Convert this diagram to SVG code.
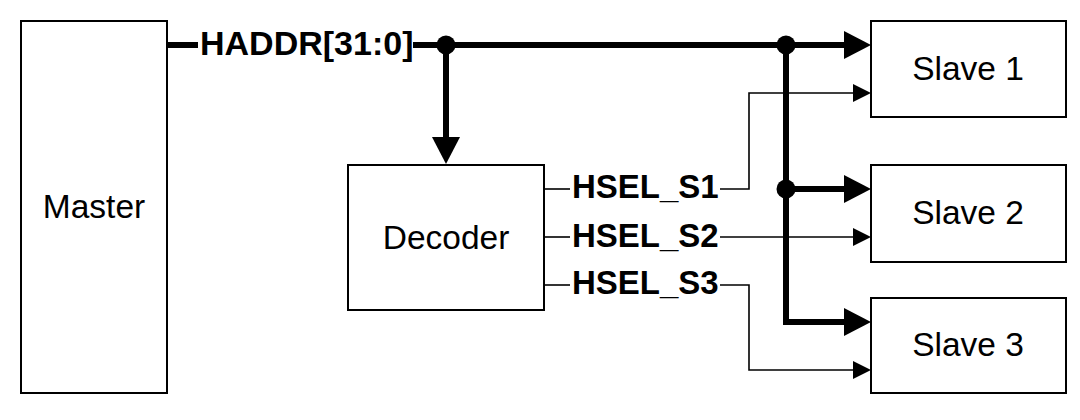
<svg xmlns="http://www.w3.org/2000/svg" width="1080" height="420" viewBox="0 0 1080 420">
<style>
.box{fill:#fff;stroke:#000;stroke-width:2}
.lbl{font-family:"Liberation Sans",Arial,sans-serif;font-size:33.5px;fill:#000;text-anchor:middle}
.sig{font-family:"Liberation Sans",Arial,sans-serif;font-size:33px;font-weight:bold;fill:#000}
.bus{fill:none;stroke:#000;stroke-width:6}
.wire{fill:none;stroke:#000;stroke-width:1.6}
</style>
<defs>
<marker id="big" markerUnits="userSpaceOnUse" markerWidth="27" markerHeight="28" refX="0" refY="14" orient="auto" overflow="visible">
<path d="M0,0 L27,14 L0,28 Z" fill="#000"/>
</marker>
<marker id="small" markerUnits="userSpaceOnUse" markerWidth="18" markerHeight="18" refX="0" refY="9" orient="auto" overflow="visible">
<path d="M0,0 L18,9 L0,18 Z" fill="#000"/>
</marker>
</defs>
<rect width="1080" height="420" fill="#fff"/>
<g id="master"><rect class="box" x="21" y="21" width="146" height="372"/><text class="lbl" x="94" y="218">Master</text></g>
<g id="decoder"><rect class="box" x="348" y="165" width="196" height="145"/><text class="lbl" x="446" y="249">Decoder</text></g>
<g id="slave1"><rect class="box" x="871" y="21" width="195" height="96"/><text class="lbl" x="968" y="80">Slave 1</text></g>
<g id="slave2"><rect class="box" x="871" y="165" width="195" height="97"/><text class="lbl" x="968" y="224">Slave 2</text></g>
<g id="slave3"><rect class="box" x="871" y="298" width="195" height="95"/><text class="lbl" x="968" y="356">Slave 3</text></g>
<g id="connectors">
<path class="bus" d="M167,45 H198"/>
<text class="sig" x="200" y="55" style="font-size:34px">HADDR[31:0]</text>
<path class="bus" d="M413,45 H844" marker-end="url(#big)"/>
<path class="bus" d="M446,45 V137" marker-end="url(#big)"/>
<path class="bus" d="M786,45 V322 H844" marker-end="url(#big)"/>
<path class="bus" d="M786,189 H844" marker-end="url(#big)"/>
<circle cx="446" cy="45" r="9.5" fill="#000"/>
<circle cx="786" cy="45" r="9.5" fill="#000"/>
<circle cx="786" cy="189" r="9.5" fill="#000"/>
<path class="wire" d="M544,189 H570"/>
<path class="wire" d="M544,237 H570"/>
<path class="wire" d="M544,285 H570"/>
<text class="sig" x="572" y="198">HSEL_S1</text>
<text class="sig" x="572" y="247">HSEL_S2</text>
<text class="sig" x="572" y="294">HSEL_S3</text>
<path class="wire" d="M720,189 H749 V93 H853" marker-end="url(#small)"/>
<path class="wire" d="M720,237 H853" marker-end="url(#small)"/>
<path class="wire" d="M720,285 H749 V370 H853" marker-end="url(#small)"/>
</g>
</svg>
